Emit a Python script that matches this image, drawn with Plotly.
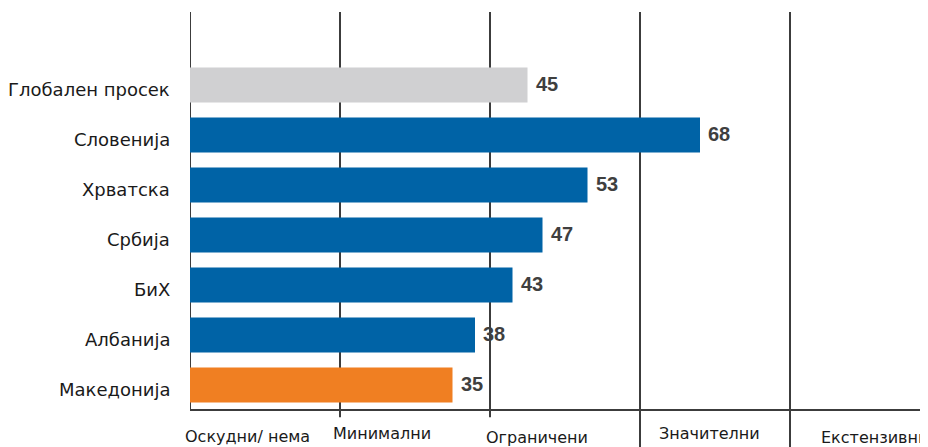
import plotly.graph_objects as go

categories = ["Глобален просек", "Словенија", "Хрватска", "Србија", "БиХ", "Албанија", "Македонија"]
values = [45, 68, 53, 47, 43, 38, 35]
bar_colors = ["#d0d0d2", "#0063a6", "#0063a6", "#0063a6", "#0063a6", "#0063a6", "#f07f22"]
grid_values = [0, 20, 40, 60, 80]
level_labels = ["Оскудни/ нема", "Минимални", "Ограничени", "Значителни", "Екстензивни"]
level_positions = [7.7, 25.6, 46.3, 69.2, 91.3]

fig = go.Figure()
fig.add_trace(go.Bar(
    y=categories, x=values, orientation="h",
    marker=dict(color=bar_colors, line=dict(width=0)),
    hoverinfo="skip",
))

for c, v in zip(categories, values):
    fig.add_annotation(x=v, y=c, xref="x", yref="y", text=f"<b>{v}</b>",
                       showarrow=False, xanchor="left", xshift=6, yshift=1,
                       font=dict(family="Liberation Sans, Arial", size=20, color="#3f3f3f"))

# category labels placed slightly below bar centers, as in the reference
for c in categories:
    fig.add_annotation(x=0, y=c, xref="x", yref="y", text=c, showarrow=False,
                       xanchor="right", xshift=-18, yshift=-4,
                       font=dict(family="DejaVu Sans, Verdana", size=18, color="#1a1a1a"))

# vertical grid lines
ext = {0: 0.0, 20: -0.018, 40: -0.018, 60: -0.095, 80: -0.095}
for g in grid_values:
    fig.add_shape(type="line", xref="x", yref="paper", x0=g, x1=g,
                  y0=ext[g], y1=1, line=dict(color="#3c3c3c", width=2), layer="below")
# baseline
fig.add_shape(type="line", xref="x", yref="paper", x0=0, x1=100, y0=0, y1=0,
              line=dict(color="#3c3c3c", width=2))

label_y = [-0.066, -0.058, -0.07, -0.06, -0.07]
for lab, pos, ly in zip(level_labels, level_positions, label_y):
    fig.add_annotation(x=pos, y=ly, xref="x", yref="paper", text=lab, showarrow=False,
                       xanchor="center", yanchor="middle",
                       font=dict(family="DejaVu Sans, Verdana", size=16, color="#1a1a1a"))

fig.update_layout(
    width=920, height=439,
    margin=dict(l=182, r=0, t=4, b=37, autoexpand=False),
    paper_bgcolor="white", plot_bgcolor="white",
    bargap=0.3, showlegend=False,
    xaxis=dict(range=[0, 98.4], showgrid=False, zeroline=False, showticklabels=False,
               showline=False, ticks="", automargin=False),
    yaxis=dict(range=[6.5, -1.46], showgrid=False, zeroline=False, showline=False,
               ticks="", showticklabels=False, automargin=False),
)

fig.write_html("out.html")
